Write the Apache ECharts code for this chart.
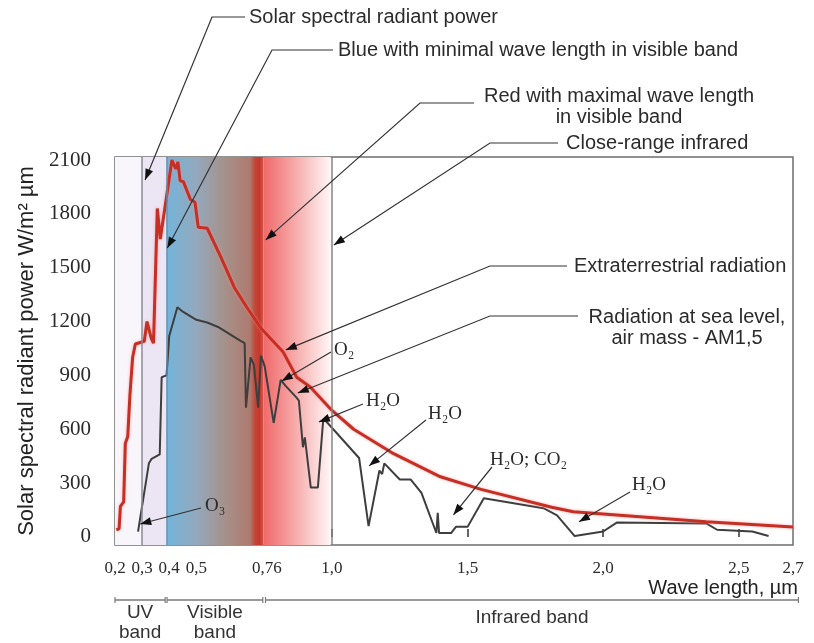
<!DOCTYPE html>
<html>
<head>
<meta charset="utf-8">
<script src="https://cdn.jsdelivr.net/npm/echarts@6/dist/echarts.min.js"></script>
<style>
html,body{margin:0;padding:0;background:#fff}
#main{width:814px;height:643px}
</style>
</head>
<body>
<div id="main"></div>
<script>
// extraterrestrial radiation (red)
var extraWave = [0.205,0.215,0.220,0.232,0.238,0.247,0.255,0.265,0.275,0.308,0.318,0.334,0.342,0.356,0.367,0.410,0.424,0.432,0.440,0.452,0.478,0.495,0.507,0.540,0.590,0.640,0.690,0.740,0.820,0.870,0.920,1.000,1.080,1.220,1.400,1.550,1.810,1.890,2.380,2.700];
var extraPower = [40,45,170,195,520,560,790,1000,1075,1090,1200,1105,1080,1830,1660,2100,2050,2090,1985,1980,1880,1865,1725,1720,1560,1390,1270,1160,1030,890,835,705,600,470,335,265,165,140,85,55];
// radiation at sea level AM1,5 (dark grey)
var seaWave = [0.285,0.325,0.335,0.365,0.372,0.390,0.400,0.430,0.450,0.500,0.540,0.580,0.660,0.678,0.683,0.700,0.712,0.728,0.738,0.752,0.785,0.811,0.830,0.867,0.878,0.893,0.900,0.922,0.948,0.967,0.975,1.100,1.135,1.175,1.185,1.193,1.250,1.290,1.330,1.385,1.390,1.395,1.440,1.457,1.500,1.560,1.780,1.830,1.895,2.000,2.050,2.380,2.420,2.550,2.610];
var seaPower = [30,410,435,460,890,900,1120,1280,1255,1210,1195,1170,1095,1080,720,1000,960,720,1010,950,635,875,840,780,760,500,555,275,275,640,650,440,60,370,350,410,320,320,245,22,135,22,22,56,56,215,160,120,5,30,80,75,40,30,5];

var xTicks = [0.2,0.3,0.4,0.5,0.76,1.0,1.5,2.0,2.5,2.7];
var xLabels = ['0,2','0,3','0,4','0,5','0,76','1,0','1,5','2,0','2,5','2,7'];
var xTickMarks = [0.5,1.0,1.5,2.0,2.5];
var yTicks = [0,300,600,900,1200,1500,1800,2100];
var yTickMarks = [300,600,900,1200,1500,1800];

function zip(a, b) {
	var out = [];
	for (var i = 0; i < a.length; i++) out.push([a[i], b[i]]);
	return out;
}

var chart = echarts.init(document.getElementById('main'));

var visibleGrad = new echarts.graphic.LinearGradient(0, 0, 1, 0, [
	{offset: 0, color: '#74b4da'},
	{offset: 0.3, color: '#93a9bd'},
	{offset: 0.6, color: '#a6918a'},
	{offset: 0.86, color: '#ae7a6f'},
	{offset: 0.91, color: '#c1473a'},
	{offset: 0.96, color: '#c9372a'},
	{offset: 1, color: '#d85a4f'}
]);
var irGrad = new echarts.graphic.LinearGradient(0, 0, 1, 0, [
	{offset: 0, color: '#f06a6a'},
	{offset: 0.4, color: '#f6a0a0'},
	{offset: 1, color: '#fff6f6'}
]);

var option = {
	animation: false,
	grid: {
		left: 115, right: 21, top: 157, bottom: 98,
		show: true, borderColor: '#6e6e6e', borderWidth: 1.5
	},
	xAxis: {
		type: 'value', min: 0.2, max: 2.7,
		axisLine: {show: false},
		splitLine: {show: false},
		axisTick: {
			inside: true, length: 8, customValues: xTickMarks,
			lineStyle: {color: '#333', width: 1.5}
		},
		axisLabel: {
			customValues: xTicks, margin: 15, hideOverlap: false,
			fontFamily: 'Liberation Serif', fontSize: 17, color: '#2a2a2a',
			formatter: function(v) {
				for (var i = 0; i < xTicks.length; i++) {
					if (Math.abs(xTicks[i] - v) < 1e-6) return xLabels[i];
				}
				return '';
			}
		}
	},
	yAxis: {
		type: 'value', min: -45, max: 2117,
		name: 'Solar spectral radiant power W/m\u00b2 \u00b5m',
		nameLocation: 'middle', nameGap: 73, nameRotate: 90,
		nameTextStyle: {fontFamily: 'Liberation Sans', fontSize: 22, color: '#222'},
		axisLine: {show: false},
		splitLine: {show: false},
		axisTick: {
			inside: true, length: 13, customValues: yTickMarks,
			lineStyle: {color: '#222', width: 2}
		},
		axisLabel: {
			customValues: yTicks, margin: 24,
			fontFamily: 'Liberation Serif', fontSize: 21, color: '#2a2a2a',
			formatter: function(v) { return String(v); }
		}
	},
	series: [{
		name: 'bands', type: 'line', z: 1, silent: true,
		data: [[0.2, 0]], symbol: 'none', lineStyle: {opacity: 0},
		markArea: {
			silent: true,
			label: {show: false},
			data: [
				[{xAxis: 0.2, itemStyle: {color: '#f8f6fb'}}, {xAxis: 0.3}],
				[{xAxis: 0.3, itemStyle: {color: '#ece5f4'}}, {xAxis: 0.393}],
				[{xAxis: 0.393, itemStyle: {color: visibleGrad}}, {xAxis: 0.748}],
				[{xAxis: 0.748, itemStyle: {color: irGrad}}, {xAxis: 0.995}]
			]
		},
		markLine: {
			silent: true, symbol: 'none', label: {show: false},
			data: [
				{xAxis: 0.3, lineStyle: {color: '#8c8a98', width: 1.5, type: 'solid'}},
				{xAxis: 0.393, lineStyle: {color: '#5a8db3', width: 1.5, type: 'solid'}},
				{xAxis: 1.0, lineStyle: {color: '#858585', width: 1.5, type: 'solid'}}
			]
		}
	}, {
		name: 'Radiation at sea level', type: 'line', z: 3,
		data: zip(seaWave, seaPower), symbol: 'none',
		lineStyle: {color: '#3e3e3e', width: 2}
	}, {
		name: 'Extraterrestrial radiation', type: 'line', z: 4,
		data: zip(extraWave, extraPower), symbol: 'none',
		lineStyle: {color: '#c52f24', width: 3, shadowColor: 'rgba(255,140,140,0.7)', shadowBlur: 3}
	}]
};
chart.setOption(option);

// annotations: text in pixels, arrow tip in data coords
var sans = '20px "Liberation Sans"';
var serif = '19px "Liberation Serif"';
var notes = [
	{text: 'Solar spectral radiant power', x: 249, y: 17, align: 'left', font: sans, path: [[245, 17], [212, 17]], tip: [0.311, 1989]},
	{text: 'Blue with minimal wave length in visible band', x: 338, y: 50, align: 'left', font: sans, path: [[333, 50], [272, 50]], tip: [0.393, 1610]},
	{text: 'Red with maximal wave length\nin visible band', x: 619, y: 107, align: 'center', font: sans, path: [[474, 103], [420, 103]], tip: [0.756, 1655]},
	{text: 'Close-range infrared', x: 566, y: 143, align: 'left', font: sans, path: [[558, 143], [490, 143]], tip: [1.007, 1627]},
	{text: 'Extraterrestrial radiation', x: 574, y: 266, align: 'left', font: sans, path: [[567, 266], [490, 266]], tip: [0.83, 1042]},
	{text: 'Radiation at sea level,\nair mass - AM1,5', x: 687, y: 328, align: 'center', font: sans, path: [[578, 316], [490, 316]], tip: [0.874, 802]},
	{text: 'O\u2082', x: 334, y: 350, align: 'left', font: serif, path: [[331, 352]], tip: [0.815, 869]},
	{text: 'H\u2082O', x: 366, y: 401, align: 'left', font: serif, path: [[363, 404]], tip: [0.952, 641]},
	{text: 'H\u2082O', x: 428, y: 414, align: 'left', font: serif, path: [[426, 420]], tip: [1.137, 396]},
	{text: 'H\u2082O; CO\u2082', x: 490, y: 460, align: 'left', font: serif, path: [[492, 467]], tip: [1.448, 123]},
	{text: 'H\u2082O', x: 632, y: 485, align: 'left', font: serif, path: [[630, 492]], tip: [1.911, 84]},
	{text: 'O\u2083', x: 205, y: 506, align: 'left', font: serif, path: [[201, 508]], tip: [0.293, 72]}
];

function arrowHead(tip, from) {
	var dx = tip[0] - from[0], dy = tip[1] - from[1];
	var len = Math.sqrt(dx * dx + dy * dy);
	var ux = dx / len, uy = dy / len;
	var bx = tip[0] - ux * 11, by = tip[1] - uy * 11;
	return [[tip[0], tip[1]], [bx - uy * 4, by + ux * 4], [bx + uy * 4, by - ux * 4]];
}

var elements = [];
notes.forEach(function(n) {
	var tipPx = chart.convertToPixel({gridIndex: 0}, n.tip);
	var pts = n.path.concat([tipPx]);
	var from = pts[pts.length - 2];
	elements.push({type: 'polyline', z: 50, silent: true, shape: {points: pts}, style: {stroke: '#333', lineWidth: 1.2, fill: null}});
	elements.push({type: 'polygon', z: 51, silent: true, shape: {points: arrowHead(tipPx, from)}, style: {fill: '#111'}});
	elements.push({type: 'text', z: 52, silent: true, style: {text: n.text, x: n.x, y: n.y, font: n.font, fill: '#2b2b2b', textAlign: n.align, textVerticalAlign: 'middle', lineHeight: 21}});
});

// x axis title
elements.push({type: 'text', z: 52, silent: true, style: {text: 'Wave length, \u00b5m', x: 798, y: 588, font: '20px "Liberation Sans"', fill: '#222', textAlign: 'right', textVerticalAlign: 'middle'}});

// band brackets under the axis
var bands = [
	{from: 0.2, to: 0.385, label: 'UV\nband', y: 623},
	{from: 0.392, to: 0.745, label: 'Visible\nband', y: 623},
	{from: 0.755, to: 2.72, label: 'Infrared band', y: 618}
];
var bracketY = 600;
bands.forEach(function(b) {
	var x1 = chart.convertToPixel({gridIndex: 0}, [b.from, 0])[0];
	var x2 = chart.convertToPixel({gridIndex: 0}, [b.to, 0])[0];
	elements.push({type: 'line', silent: true, shape: {x1: x1, y1: bracketY, x2: x2, y2: bracketY}, style: {stroke: '#7a7a7a', lineWidth: 1.5}});
	elements.push({type: 'line', silent: true, shape: {x1: x1, y1: bracketY - 3, x2: x1, y2: bracketY + 3}, style: {stroke: '#7a7a7a', lineWidth: 1.2}});
	elements.push({type: 'line', silent: true, shape: {x1: x2, y1: bracketY - 3, x2: x2, y2: bracketY + 3}, style: {stroke: '#7a7a7a', lineWidth: 1.2}});
	elements.push({type: 'text', silent: true, style: {text: b.label, x: (x1 + x2) / 2, y: b.y, font: '19px "Liberation Sans"', fill: '#333', textAlign: 'center', textVerticalAlign: 'middle', lineHeight: 20}});
});

chart.setOption({graphic: {elements: elements}});
</script>
</body>
</html>
